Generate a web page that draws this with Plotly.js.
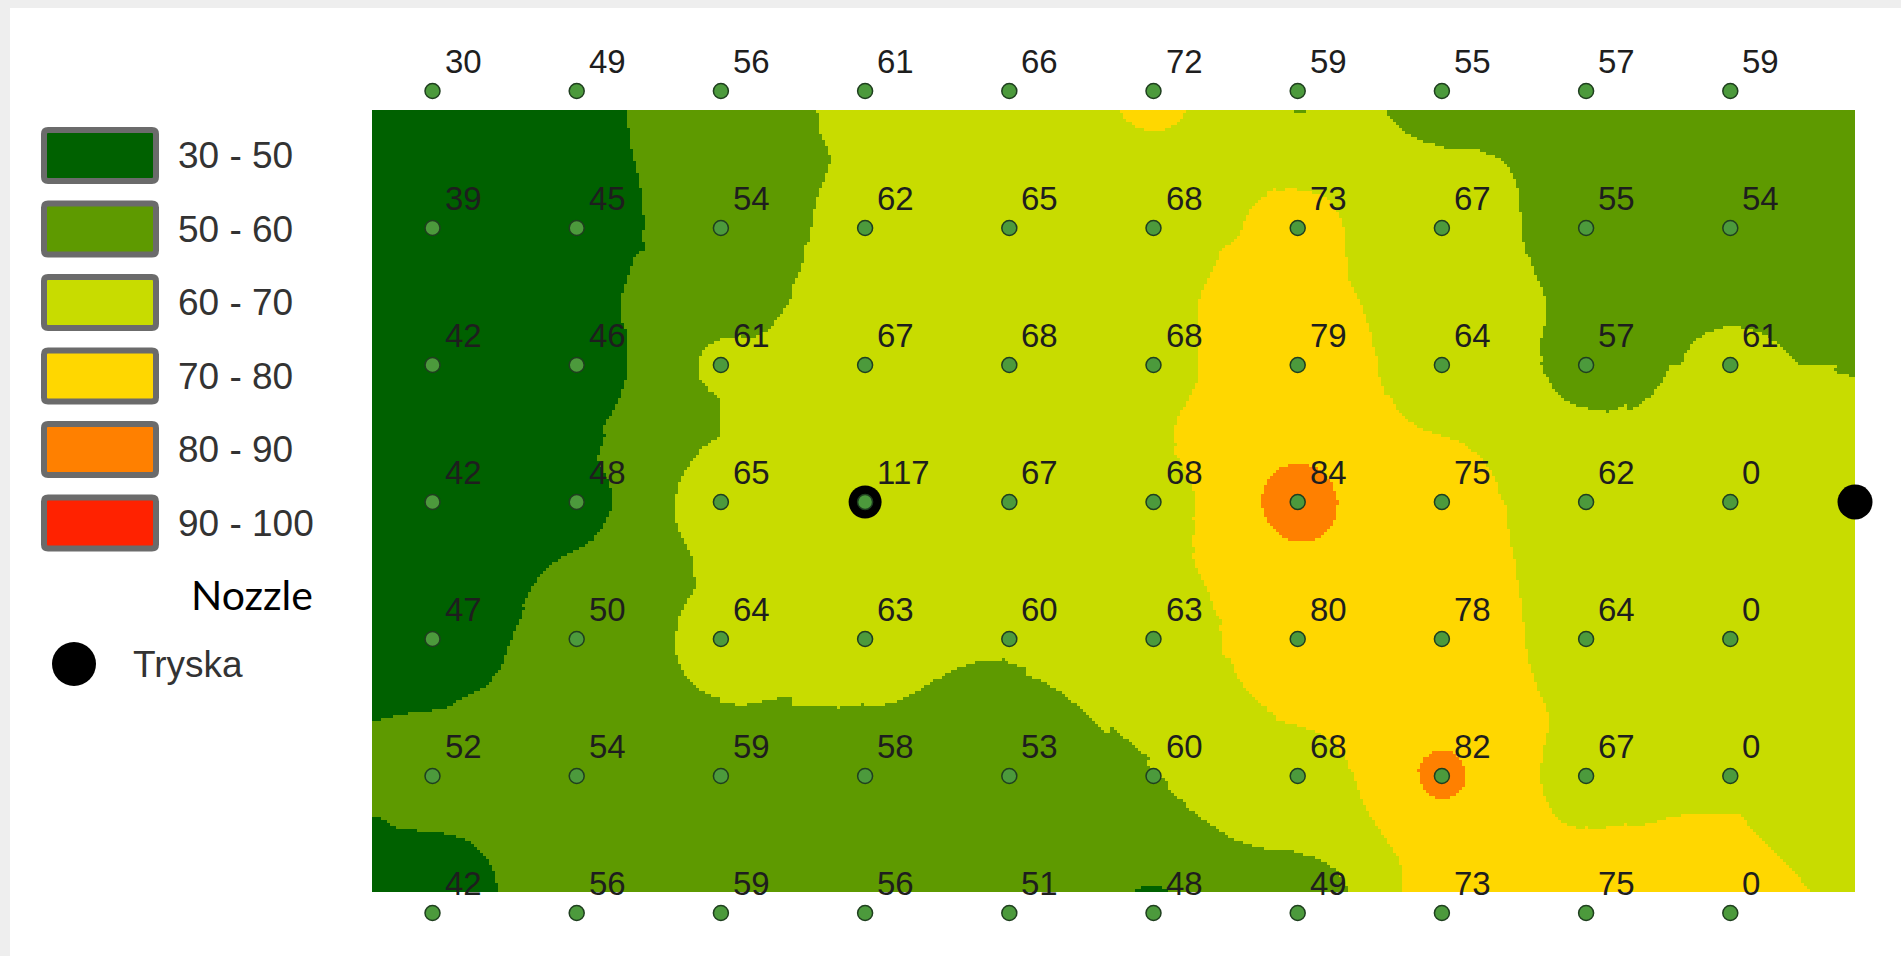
<!DOCTYPE html>
<html>
<head>
<meta charset="utf-8">
<script src="https://cdn.plot.ly/plotly-3.0.1.min.js"></script>
<style>
html,body{margin:0;padding:0;background:#ffffff;overflow:hidden}
#chart{width:1901px;height:956px}
</style>
</head>
<body>
<div id="chart"></div>
<script>
// ---------------- DATA ----------------
// Measurement grid: 10 columns x 7 rows (row 0 = top line of collectors)
const columns = [0, 1, 2, 3, 4, 5, 6, 7, 8, 9];
const rows = [0, 1, 2, 3, 4, 5, 6];
const row0 = [30, 49, 56, 61, 66, 72, 59, 55, 57, 59];
const row1 = [39, 45, 54, 62, 65, 68, 73, 67, 55, 54];
const row2 = [42, 46, 61, 67, 68, 68, 79, 64, 57, 61];
const row3 = [42, 48, 65, 117, 67, 68, 84, 75, 62, 0];
const row4 = [47, 50, 64, 63, 60, 63, 80, 78, 64, 0];
const row5 = [52, 54, 59, 58, 53, 60, 68, 82, 67, 0];
const row6 = [42, 56, 59, 56, 51, 48, 49, 73, 75, 0];

// Classes of the legend
const classLabels = ["30 - 50", "50 - 60", "60 - 70", "70 - 80", "80 - 90", "90 - 100"];
const classBreaks = [30, 50, 60, 70, 80, 90, 100];
const classColors = ["#006100", "#5e9a00", "#c8dc00", "#ffd700", "#ff8000", "#ff2200"];

// Nozzles (Tryska) positions in grid units
const nozzleX = [3, 9.865];
const nozzleY = [3, 3];
const nozzleTitle = "Nozzle";
const nozzleLabel = "Tryska";

// ---------------- GEOMETRY (pixel layout of the picture) ----------------
const W = 1901, H = 956;
const COL0 = 432.5, COLSTEP = 144.2;   // pixel of column 0, pixels per column
const ROW0 = 91, ROWSTEP = 137;        // pixel of row 0, pixels per row
const fieldLeft = (372 - COL0) / COLSTEP, fieldRight = (1855 - COL0) / COLSTEP;
const fieldTop = (110 - ROW0) / ROWSTEP, fieldBottom = (892 - ROW0) / ROWSTEP;

const valueRows = [row0, row1, row2, row3, row4, row5, row6];

// ---------------- SURFACE (inverse distance weighting of the measurements) ----------------
const samples = [];
rows.forEach(function (r, j) {
  columns.forEach(function (c, i) {
    const v = valueRows[j][i];
    if (v > 0 && v <= 100) samples.push([c * COLSTEP, r * ROWSTEP, v]);
  });
});
const K = 12, POW = 2;
const NX = 494, NY = 261;
const gx = [], gy = [], gz = [];
const dxc = (fieldRight - fieldLeft) / NX, dyc = (fieldBottom - fieldTop) / NY;
for (let i = 0; i < NX; i++) gx.push(fieldLeft + dxc * (i + 0.5));
for (let j = 0; j < NY; j++) gy.push(fieldTop + dyc * (j + 0.5));
for (let j = 0; j < NY; j++) {
  const rowZ = new Array(NX);
  const py = gy[j] * ROWSTEP;
  for (let i = 0; i < NX; i++) {
    const px = gx[i] * COLSTEP;
    const d = samples.map(function (s) {
      const ddx = s[0] - px, ddy = s[1] - py;
      return [ddx * ddx + ddy * ddy, s[2]];
    });
    d.sort(function (a, b) { return a[0] - b[0]; });
    let num = 0, den = 0, exact = null;
    for (let k = 0; k < K; k++) {
      if (d[k][0] < 1e-9) { exact = d[k][1]; break; }
      const w = 1 / Math.pow(d[k][0], POW / 2);
      num += w * d[k][1]; den += w;
    }
    rowZ[i] = exact !== null ? exact : num / den;
  }
  gz.push(rowZ);
}

// stepwise colour scale built from the classes
const zmin = classBreaks[0], zmax = classBreaks[classBreaks.length - 1];
const colorscale = [];
for (let i = 0; i < classColors.length; i++) {
  colorscale.push([(classBreaks[i] - zmin) / (zmax - zmin), classColors[i]]);
  colorscale.push([(classBreaks[i + 1] - zmin) / (zmax - zmin), classColors[i]]);
}

// ---------------- TRACES ----------------
const ptX = [], ptY = [], ptV = [];
rows.forEach(function (r, j) {
  columns.forEach(function (c, i) { ptX.push(c); ptY.push(r); ptV.push(valueRows[j][i]); });
});

const surface = {
  type: 'heatmap', x: gx, y: gy, z: gz, zmin: zmin, zmax: zmax,
  colorscale: colorscale, zsmooth: false, showscale: false, hoverinfo: 'skip'
};
const nozzles = {
  type: 'scatter', mode: 'markers', x: nozzleX, y: nozzleY, hoverinfo: 'skip',
  marker: { color: '#000000', opacity: 1, size: [33, 35], line: { width: 0 } }
};
const dots = {
  type: 'scatter', mode: 'markers', x: ptX, y: ptY, hoverinfo: 'skip',
  marker: { color: '#4c9a3c', opacity: 1, size: 15, line: { color: '#1f3f1f', width: 1.5 } }
};

// ---------------- LAYOUT ----------------
function X(px) { return px / W; }
function Y(py) { return 1 - py / H; }

const annotations = ptV.map(function (v, k) {
  return {
    x: ptX[k], y: ptY[k], xref: 'x', yref: 'y', text: String(v), showarrow: false,
    xanchor: 'left', yanchor: 'middle', xshift: 10, yshift: 30,
    font: { family: 'Liberation Sans, Arial, sans-serif', size: 33, color: '#1e1e1e' }
  };
});

const shapes = [
  { type: 'rect', xref: 'paper', yref: 'paper', x0: 0, x1: 1, y0: Y(8), y1: 1, fillcolor: '#eeeeee', line: { width: 0 }, layer: 'below' },
  { type: 'rect', xref: 'paper', yref: 'paper', x0: 0, x1: X(10), y0: 0, y1: 1, fillcolor: '#eeeeee', line: { width: 0 }, layer: 'below' }
];

classLabels.forEach(function (lab, i) {
  const top = 127 + 73.5 * i, bot = top + 57;
  const l = 44, r = 156, t = top + 3, b = bot - 3, rad = 4;
  const path = 'M' + X(l + rad) + ',' + Y(t) + ' L' + X(r - rad) + ',' + Y(t) +
    ' Q' + X(r) + ',' + Y(t) + ' ' + X(r) + ',' + Y(t + rad) +
    ' L' + X(r) + ',' + Y(b - rad) + ' Q' + X(r) + ',' + Y(b) + ' ' + X(r - rad) + ',' + Y(b) +
    ' L' + X(l + rad) + ',' + Y(b) + ' Q' + X(l) + ',' + Y(b) + ' ' + X(l) + ',' + Y(b - rad) +
    ' L' + X(l) + ',' + Y(t + rad) + ' Q' + X(l) + ',' + Y(t) + ' ' + X(l + rad) + ',' + Y(t) + ' Z';
  shapes.push({ type: 'path', xref: 'paper', yref: 'paper', path: path,
    fillcolor: classColors[i], line: { color: '#6b6b6b', width: 6 } });
  annotations.push({ xref: 'paper', yref: 'paper', x: X(176), y: Y((top + bot) / 2), text: lab,
    showarrow: false, xanchor: 'left', yanchor: 'middle',
    font: { family: 'Liberation Sans, Arial, sans-serif', size: 37, color: '#333333' } });
});

annotations.push({ xref: 'paper', yref: 'paper', x: X(252), y: Y(594), text: nozzleTitle,
  showarrow: false, xanchor: 'center', yanchor: 'middle',
  font: { family: 'Lato, Open Sans, sans-serif', size: 41, color: '#000000' } });
shapes.push({ type: 'circle', xref: 'paper', yref: 'paper', x0: X(52), x1: X(96), y0: Y(686), y1: Y(642),
  fillcolor: '#000000', line: { width: 0 } });
annotations.push({ xref: 'paper', yref: 'paper', x: X(131), y: Y(664), text: nozzleLabel,
  showarrow: false, xanchor: 'left', yanchor: 'middle',
  font: { family: 'Liberation Sans, Arial, sans-serif', size: 37, color: '#333333' } });

const layout = {
  width: W, height: H,
  margin: { l: 0, r: 0, t: 0, b: 0, pad: 0 },
  paper_bgcolor: '#ffffff', plot_bgcolor: 'rgba(0,0,0,0)',
  showlegend: false,
  xaxis: { range: [(0 - COL0) / COLSTEP, (W - COL0) / COLSTEP], visible: false, fixedrange: true },
  yaxis: { range: [(H - ROW0) / ROWSTEP, (0 - ROW0) / ROWSTEP], visible: false, fixedrange: true },
  shapes: shapes,
  annotations: annotations
};

Plotly.newPlot('chart', [surface, nozzles, dots], layout, { displayModeBar: false, staticPlot: true });
</script>
</body>
</html>
